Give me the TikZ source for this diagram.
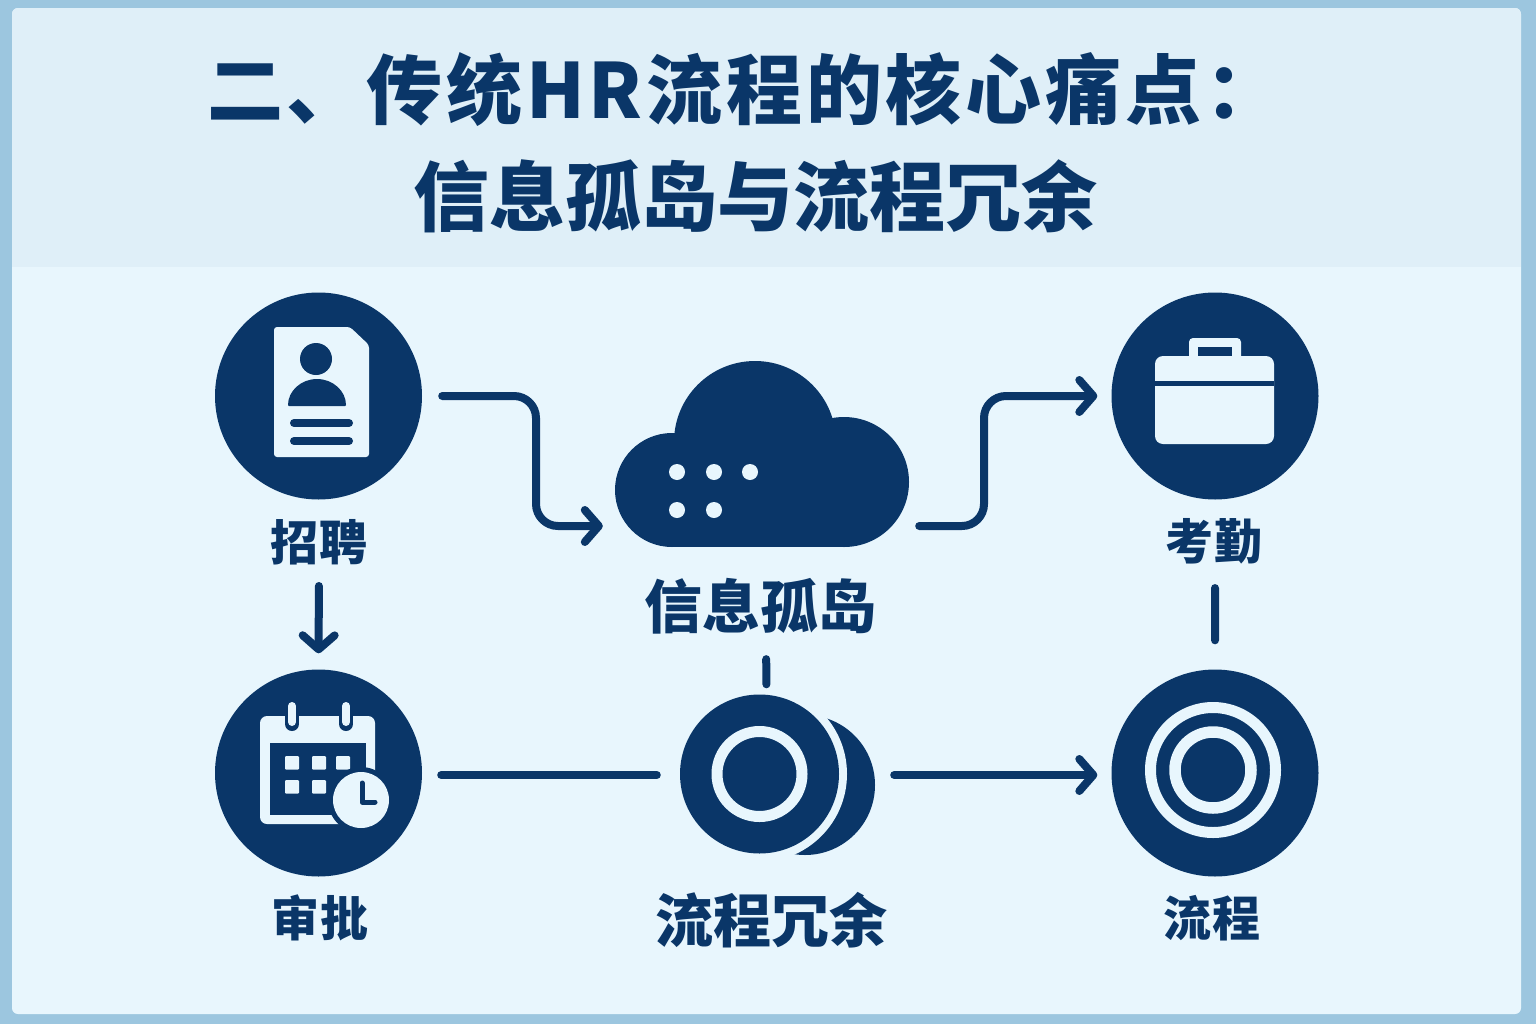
\documentclass[tikz,border=0pt]{standalone}
\usepackage{fontspec}
\setmainfont{Noto Sans CJK SC}
\usepackage{tikz}
\usetikzlibrary{arrows.meta}
\definecolor{navy}{HTML}{0A3668}
\definecolor{frameblue}{HTML}{9CC6DF}
\definecolor{headblue}{HTML}{DFEFF8}
\definecolor{paleblue}{HTML}{E8F6FD}
\tikzset{
  hub/.style={circle,fill=navy,inner sep=0pt,minimum size=207bp},
  biglabel/.style={text=navy,inner sep=0pt,font=\fontsize{58bp}{58bp}\selectfont\bfseries},
  smalllabel/.style={text=navy,inner sep=0pt,font=\fontsize{48bp}{48bp}\selectfont\bfseries\addfontfeature{LetterSpace=4}},
  titlelabel/.style={text=navy,inner sep=0pt,font=\fontsize{76bp}{76bp}\selectfont\bfseries},
  flow/.style={navy,line width=8bp,line cap=round,line join=round},
  arrowflow/.style={flow,-{Straight Barb[round,length=14bp,width=32bp]}},
  pill/.style={paleblue,line width=8bp,line cap=round}
}
\begin{document}
\begin{tikzpicture}
\useasboundingbox (0bp,0bp) rectangle (1536bp,-1024bp);
\fill [frameblue] (0bp,0bp) rectangle (1536bp,-1024bp);
\fill [paleblue,rounded corners=6bp] (12bp,-8bp) rectangle (1521bp,-1014bp);
\begin{scope}
\clip [rounded corners=6bp] (12bp,-8bp) rectangle (1521bp,-1014bp);
\fill [headblue] (12bp,-8bp) rectangle (1521bp,-267bp);
\end{scope}
\node (Title1) at (207bp,-90bp)[titlelabel,anchor=west] {\addfontfeature{LetterSpace=5}二、传统HR流程的核心痛点：};
\node (Title2) at (755bp,-196bp)[titlelabel] {信息孤岛与流程冗余};
\node (Recruit) at (318.5bp,-396bp)[hub] {};
\node (Approve) at (318.5bp,-773bp)[hub] {};
\node (Attend) at (1215bp,-396bp)[hub] {};
\node (Flow) at (1215bp,-773bp)[hub] {};
\node (Silo) at (762bp,-454bp)[minimum width=296bp,minimum height=186bp,inner sep=0pt] {};
\fill [navy] (672bp,-490bp) circle (57bp);
\fill [navy] (755bp,-442bp) circle (81bp);
\fill [navy] (844bp,-482bp) circle (65bp);
\fill [navy] (672bp,-470bp) rectangle (844bp,-547bp);
\foreach \x/\y in {677/472,714/472,750/472,677/510,714/510}
  \fill [paleblue] (\x bp,-\y bp) circle (8bp);
\node (BackCoin) at (805bp,-785bp)[circle,fill=navy,inner sep=0pt,minimum size=140bp] {};
\fill [paleblue] (759bp,-774bp) circle (88bp);
\node (Redundant) at (759.5bp,-774bp)[circle,fill=navy,inner sep=0pt,minimum size=159bp] {};
\draw [paleblue,line width=11bp] (Redundant.center) circle (42.5bp);
\draw [paleblue,line width=11bp] (1213bp,-770bp) circle (62.5bp);
\draw [paleblue,line width=11.5bp] (1213bp,-770bp) circle (38bp);
\node (RecruitLabel) at (319bp,-542bp)[smalllabel] {招聘};
\node (ApproveLabel) at (320bp,-918bp)[smalllabel] {审批};
\node (AttendLabel) at (1214bp,-541bp)[smalllabel] {考勤};
\node (FlowLabel) at (1212bp,-918bp)[smalllabel] {流程};
\node (SiloLabel) at (760bp,-606bp)[biglabel] {信息孤岛};
\node (RedundantLabel) at (771bp,-920bp)[biglabel] {流程冗余};
% resume icon
\fill [paleblue,rounded corners=3bp] (274bp,-327bp) -- (350bp,-327bp) -- (369bp,-345bp) -- (369bp,-457bp) -- (274bp,-457bp) -- cycle;
\fill [navy] (316bp,-359bp) circle (16bp);
\fill [navy,rounded corners=1bp] (288bp,-406bp) arc[start angle=180,end angle=0,x radius=29bp,y radius=27bp] -- cycle;
\draw [navy,line width=8bp,line cap=round] (294bp,-423bp) -- (349bp,-423bp);
\draw [navy,line width=8bp,line cap=round] (294bp,-441bp) -- (349bp,-441bp);
% calendar icon
\fill [paleblue,rounded corners=7bp] (260bp,-716bp) rectangle (375bp,-824bp);
\fill [navy] (270bp,-743bp) rectangle (366bp,-815bp);
\foreach \x in {292,346} {
  \draw [navy,line width=14bp,line cap=round] (\x bp,-706bp) -- (\x bp,-724bp);
  \draw [pill] (\x bp,-706bp) -- (\x bp,-722bp);
}
\foreach \x/\y in {285/756,312/756,336/756,285/780,312/780}
  \fill [paleblue,rounded corners=1bp] (\x bp,-\y bp) rectangle ++(14bp,-13.5bp);
\fill [navy] (361bp,-800bp) circle (33bp);
\fill [paleblue] (361bp,-800bp) circle (28bp);
\draw [navy,line width=5bp,line cap=round,line join=round] (362bp,-783bp) -- (362bp,-802bp) -- (375bp,-802bp);
% briefcase icon
\fill [paleblue,rounded corners=4bp] (1189bp,-338bp) rectangle (1241bp,-362bp);
\fill [navy] (1198bp,-347bp) rectangle (1232bp,-362bp);
\fill [paleblue,rounded corners=8bp] (1155bp,-356bp) rectangle (1274bp,-444bp);
\fill [navy] (1155bp,-381bp) rectangle (1274bp,-386bp);
% connectors
\draw [arrowflow,rounded corners=22bp,shorten <=20bp,shorten >=11bp] (Recruit.east) -- (536bp,-396bp) -- (536bp,-526bp) -- (Silo.west |- 536bp,-526bp);
\draw [arrowflow,rounded corners=22bp,shorten <=9bp,shorten >=14bp] (Silo.east |- 984bp,-526bp) -- (984bp,-526bp) -- (984bp,-396bp) -- (Attend.west);
\draw [arrowflow,shorten <=21bp,shorten >=16bp] (RecruitLabel.south) -- (Approve.north);
\draw [flow,shorten <=19bp,shorten >=23bp] ([yshift=-2bp]Approve.east) -- ([yshift=-1bp]Redundant.west);
\draw [arrowflow,shorten <=55bp,shorten >=14bp] ([yshift=-1bp]Redundant.east) -- ([yshift=-2bp]Flow.west);
\draw [flow,shorten <=25bp,shorten >=10bp] ([xshift=6bp]SiloLabel.south) -- ([xshift=7bp]Redundant.north);
\draw [flow,shorten <=24bp,shorten >=29bp] ([xshift=1bp]AttendLabel.south) -- (Flow.north);
\end{tikzpicture}
\end{document}
